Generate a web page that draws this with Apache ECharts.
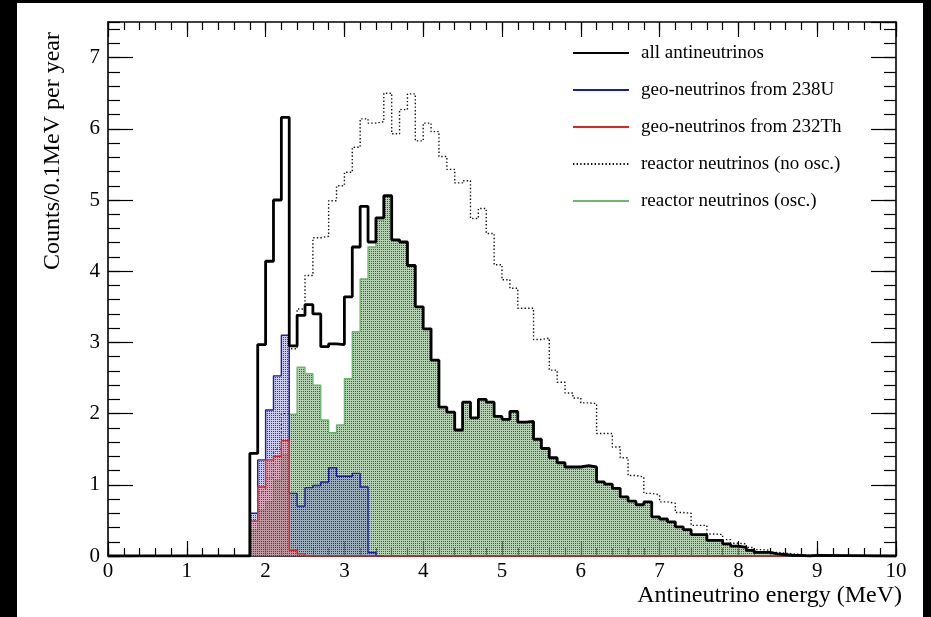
<!DOCTYPE html>
<html>
<head>
<meta charset="utf-8">
<script src="https://cdn.jsdelivr.net/npm/echarts@6/dist/echarts.min.js"></script>
<style>
  html, body { margin: 0; padding: 0; width: 931px; height: 617px; background: #000; overflow: hidden; }
  #chart { position: absolute; left: 17px; top: 3px; width: 906px; height: 614px; background: #fff; }
</style>
</head>
<body>
<div id="chart"></div>
<script>
// Spectra in 0.1 MeV bins, counts per bin per year
const binWidth = 0.1;
const firstBin = 1.8;           // lower edge of the first listed bin (MeV)
const energyMin = 0;
const energyMax = 10;

// all antineutrinos (sum), bins 1.8 ... 8.9 MeV
const totalCounts = [
  1.44, 2.97, 4.14, 5.00, 6.16, 2.95, 3.38, 3.53, 3.40, 2.94,
  2.98, 2.97, 3.64, 4.34, 4.91, 4.41, 4.75, 5.06, 4.44, 4.41,
  4.08, 3.50, 3.19, 2.75, 2.09, 2.02, 1.77, 2.16, 1.94, 2.20,
  2.16, 1.96, 1.92, 2.03, 1.88, 1.89, 1.64, 1.51, 1.38, 1.31,
  1.25, 1.25, 1.27, 1.25, 1.04, 1.01, 0.95, 0.83, 0.77, 0.72,
  0.76, 0.55, 0.52, 0.48, 0.41, 0.37, 0.30, 0.30, 0.22, 0.22,
  0.17, 0.14, 0.12, 0.08, 0.05, 0.05, 0.03, 0.02, 0.01, 0.01,
  0.00, 0.01
];

// geo-neutrinos from 238U, bins 1.8 ... 3.4 MeV
const uraniumCounts = [
  0.60, 1.35, 2.05, 2.53, 3.10, 0.88, 0.70, 0.96, 0.99, 1.04,
  1.24, 1.12, 1.12, 1.16, 0.97, 0.05, 0.00
];

// geo-neutrinos from 232Th, bins 1.8 ... 2.4 MeV (zero up to 8.6 MeV)
const thoriumCounts = [0.49, 0.97, 1.35, 1.40, 1.62, 0.08, 0.03];
const thoriumEnd = 8.6;

// reactor neutrinos without oscillation, bins 1.8 ... 8.9 MeV
const reactorNoOscCounts = [
  0.50, 0.90, 1.10, 1.50, 2.00, 2.91, 3.47, 3.94, 4.47, 4.49,
  4.99, 5.20, 5.39, 5.74, 6.14, 6.08, 6.10, 6.50, 5.93, 6.27,
  6.49, 5.83, 6.08, 5.96, 5.61, 5.43, 5.24, 5.27, 4.74, 4.88,
  4.53, 4.09, 3.88, 3.76, 3.48, 3.48, 3.04, 3.06, 2.61, 2.44,
  2.29, 2.22, 2.15, 2.14, 1.72, 1.72, 1.53, 1.38, 1.13, 1.11,
  0.88, 0.86, 0.76, 0.74, 0.61, 0.60, 0.43, 0.43, 0.31, 0.30,
  0.23, 0.18, 0.17, 0.12, 0.09, 0.08, 0.05, 0.04, 0.03, 0.02,
  0.01, 0.01
];

// reactor neutrinos with oscillation, bins 1.8 ... 8.9 MeV
const reactorOscCounts = [
  0.36, 0.64, 0.76, 1.06, 1.42, 1.99, 2.65, 2.56, 2.40, 1.91,
  1.73, 1.84, 2.49, 3.15, 3.89, 4.34, 4.72, 5.06, 4.44, 4.41,
  4.08, 3.50, 3.19, 2.75, 2.09, 2.02, 1.77, 2.16, 1.94, 2.20,
  2.16, 1.96, 1.92, 2.03, 1.88, 1.89, 1.64, 1.51, 1.38, 1.31,
  1.25, 1.25, 1.27, 1.25, 1.04, 1.01, 0.95, 0.83, 0.77, 0.72,
  0.76, 0.55, 0.52, 0.48, 0.41, 0.37, 0.30, 0.30, 0.22, 0.22,
  0.17, 0.14, 0.12, 0.08, 0.05, 0.05, 0.03, 0.02, 0.01, 0.01,
  0.00, 0.01
];

const legendNames = [
  'all antineutrinos',
  'geo-neutrinos from 238U',
  'geo-neutrinos from 232Th',
  'reactor neutrinos (no osc.)',
  'reactor neutrinos (osc.)'
];

const FONT = "'Liberation Serif', 'DejaVu Serif', 'Times New Roman', serif";

const r1 = v => Math.round(v * 10) / 10;

// Step outline of a histogram: zero baseline from `from` to the first edge,
// one step per bin, then back to zero and along the baseline up to `to`.
function histogram(values, start, from, to) {
  const pts = [];
  if (from !== undefined && from < start) pts.push([from, 0]);
  pts.push([start, 0]);
  values.forEach((v, i) => pts.push([r1(start + i * binWidth), v]));
  const end = r1(start + values.length * binWidth);
  pts.push([end, values[values.length - 1]]);
  pts.push([end, 0]);
  if (to !== undefined && to > end) pts.push([to, 0]);
  return pts;
}

// Fine dotted hatch used for the filled spectra
function dotFill(dot, tint) {
  const c = document.createElement('canvas');
  c.width = 2; c.height = 2;
  const g = c.getContext('2d');
  g.fillStyle = tint; g.fillRect(0, 0, 2, 2);
  g.fillStyle = dot;  g.fillRect(0, 0, 1, 1);
  return { image: c, repetition: 'repeat' };
}

const chart = echarts.init(document.getElementById('chart'), null, { renderer: 'canvas' });

const tickLine = { color: '#000', width: 1.2 };
const frameLine = { show: true, onZero: false, lineStyle: { color: '#000', width: 1.6 } };
const noLine = { show: false, onZero: false };

function xAxisDef(position, interval, len, labels) {
  return {
    type: 'value', min: energyMin, max: energyMax, interval, position,
    axisLine: labels !== null ? frameLine : noLine,
    axisTick: { show: true, inside: true, length: len, lineStyle: tickLine },
    axisLabel: labels ? { show: true, color: '#000', fontFamily: FONT, fontSize: 21, margin: 5 } : { show: false },
    splitLine: { show: false }
  };
}
function yAxisDef(position, interval, len, labels) {
  return {
    type: 'value', min: 0, max: 7.5, interval, position,
    axisLine: labels !== null ? frameLine : noLine,
    axisTick: { show: true, inside: true, length: len, lineStyle: tickLine },
    axisLabel: labels ? { show: true, color: '#000', fontFamily: FONT, fontSize: 21, margin: 8, showMaxLabel: false } : { show: false },
    splitLine: { show: false }
  };
}

const option = {
  animation: false,
  backgroundColor: '#fff',
  grid: { left: 91, right: 27, top: 19, bottom: 61, containLabel: false },
  xAxis: [
    xAxisDef('bottom', 1, 15, true),
    xAxisDef('bottom', 0.2, 8, null),
    xAxisDef('top', 1, 15, false),
    xAxisDef('top', 0.2, 8, null)
  ],
  yAxis: [
    yAxisDef('left', 1, 25, true),
    yAxisDef('left', 0.2, 12, null),
    yAxisDef('right', 1, 25, false),
    yAxisDef('right', 0.2, 12, null)
  ],
  legend: {
    orient: 'vertical',
    left: 555, top: 40, padding: 0,
    itemWidth: 56, itemHeight: 14, itemGap: 17,
    data: legendNames,
    selectedMode: false,
    itemStyle: { color: 'rgba(0,0,0,0)', borderColor: 'rgba(0,0,0,0)', borderWidth: 0, opacity: 0 },
    textStyle: { fontFamily: FONT, fontSize: 19, color: '#000', lineHeight: 20, padding: [0, 0, 0, 7] }
  },
  graphic: [
    {
      type: 'text', x: 885, y: 605,
      style: { text: 'Antineutrino energy (MeV)', font: '24px ' + FONT, fill: '#000', textAlign: 'right', textVerticalAlign: 'bottom' }
    },
    {
      type: 'text', x: 36, y: 148, rotation: Math.PI / 2,
      style: { text: 'Counts/0.1MeV per year', font: '24px ' + FONT, fill: '#000', textAlign: 'center', textVerticalAlign: 'middle' }
    }
  ],
  series: [
    {
      name: legendNames[3], type: 'line', step: 'end', symbol: 'none', z: 2,
      data: histogram(reactorNoOscCounts, firstBin),
      lineStyle: { color: '#111', width: 1.4, type: [1.4, 2.2] },
      itemStyle: { color: '#111' }
    },
    {
      name: legendNames[4], type: 'line', step: 'end', symbol: 'none', z: 3,
      data: histogram(reactorOscCounts, firstBin),
      lineStyle: { color: '#6cb86c', width: 1.4 },
      itemStyle: { color: '#6cb86c' },
      areaStyle: { color: dotFill('rgba(45,85,45,0.9)', 'rgba(140,185,135,0.65)'), opacity: 1 }
    },
    {
      name: legendNames[1], type: 'line', step: 'end', symbol: 'none', z: 4,
      data: histogram(uraniumCounts, firstBin),
      lineStyle: { color: '#1c1ca6', width: 1.4 },
      itemStyle: { color: '#1c1ca6' },
      areaStyle: { color: dotFill('rgba(30,30,120,0.85)', 'rgba(120,120,210,0.38)'), opacity: 1 }
    },
    {
      name: legendNames[2], type: 'line', step: 'end', symbol: 'none', z: 5,
      data: histogram(thoriumCounts, firstBin, undefined, thoriumEnd),
      lineStyle: { color: '#e02424', width: 1.4 },
      itemStyle: { color: '#e02424' },
      areaStyle: { color: dotFill('rgba(140,35,35,0.85)', 'rgba(235,120,120,0.42)'), opacity: 1 }
    },
    {
      name: legendNames[0], type: 'line', step: 'end', symbol: 'none', z: 6,
      data: histogram(totalCounts, firstBin, energyMin, energyMax),
      lineStyle: { color: '#000', width: 2.8 },
      itemStyle: { color: '#000' }
    }
  ]
};

chart.setOption(option);
</script>
</body>
</html>
